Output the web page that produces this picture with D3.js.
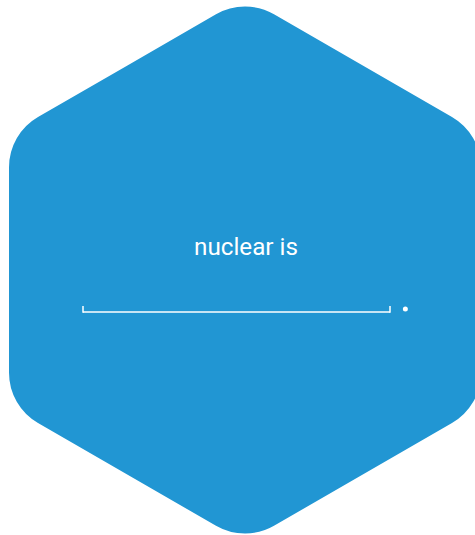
<!DOCTYPE html>
<html lang="en">
<head>
  <meta charset="utf-8">
  <title>nuclear is</title>
  <script src="https://cdn.jsdelivr.net/npm/d3@7/dist/d3.min.js"></script>
  <style>
    * { margin: 0; padding: 0; }
    body { background: #fff; overflow: hidden; }
    svg { display: block; }
  </style>
</head>
<body>
  <svg id="chart"></svg>
  <script>
    const W = 475
    const H = 535

    // data
    const prompts = ['nuclear is']
    const scaleDomain = [0, 100]
    const scaleEnds = [0, 100]
    const markers = [105]

    const BLUE = '#2196d3'

    const svg = d3.select('#chart').attr('width', W).attr('height', H)

    // rounded hexagon, pointy top
    const cx = 245, cy = 270, R = 272.5, corner = 58
    const verts = d3.range(6).map(i => {
      const a = (-90 + i * 60) * Math.PI / 180
      return [cx + R * Math.cos(a), cy + R * Math.sin(a)]
    })
    const p = d3.path()
    const last = verts[5], first = verts[0]
    p.moveTo((last[0] + first[0]) / 2, (last[1] + first[1]) / 2)
    for (let i = 0; i < 6; i++) {
      const v = verts[i], n = verts[(i + 1) % 6]
      p.arcTo(v[0], v[1], n[0], n[1], corner)
    }
    p.closePath()
    svg.append('path').attr('d', p.toString()).attr('fill', BLUE)

    svg.selectAll('text.prompt')
      .data(prompts)
      .join('text')
      .attr('class', 'prompt')
      .attr('x', 246)
      .attr('y', 255)
      .attr('text-anchor', 'middle')
      .attr('font-family', 'Roboto, sans-serif')
      .attr('font-weight', 400)
      .attr('font-size', 24)
      .attr('textLength', 104)
      .attr('lengthAdjust', 'spacingAndGlyphs')
      .attr('fill', '#fff')
      .text(d => d)

    const x = d3.scaleLinear().domain(scaleDomain).range([83, 390])
    const lineY = 312

    const scale = svg.append('g')
    scale.append('line')
      .attr('x1', x(scaleDomain[0])).attr('x2', x(scaleDomain[1]))
      .attr('y1', lineY).attr('y2', lineY)
      .attr('stroke', '#fff').attr('stroke-width', 1.5)

    scale.selectAll('line.tick')
      .data(scaleEnds)
      .join('line')
      .attr('class', 'tick')
      .attr('x1', d => x(d)).attr('x2', d => x(d))
      .attr('y1', lineY + 0.75).attr('y2', lineY - 6)
      .attr('stroke', '#fff').attr('stroke-width', 1.5)

    scale.selectAll('circle')
      .data(markers)
      .join('circle')
      .attr('cx', d => x(d))
      .attr('cy', lineY - 3)
      .attr('r', 2.5)
      .attr('fill', '#fff')
  </script>
</body>
</html>
